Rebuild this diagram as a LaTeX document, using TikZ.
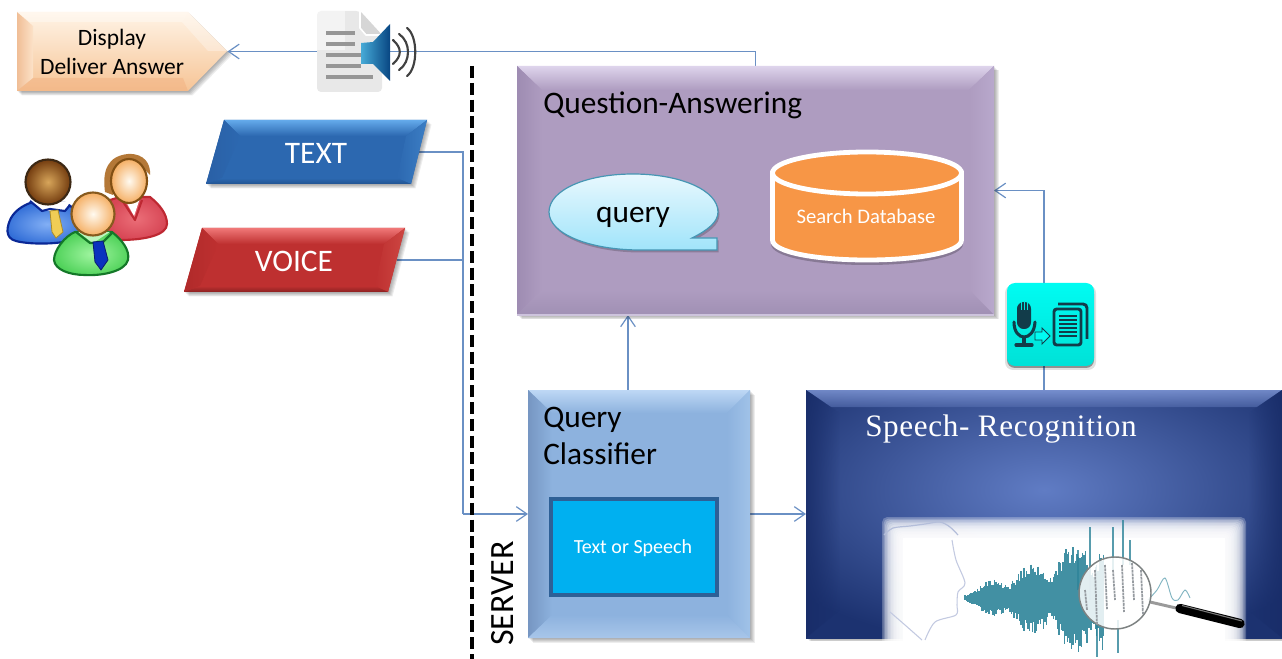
\documentclass[tikz,border=0pt]{standalone}
\usepackage{fontspec}
\setmainfont{Carlito}
\newfontfamily\serifcap[LetterSpace=2]{Liberation Serif}
\usetikzlibrary{arrows.meta,calc,shapes.geometric,fadings}
\tikzfading[name=fadeR,left color=transparent!0,right color=transparent!100]
\tikzfading[name=fadeL,left color=transparent!100,right color=transparent!0]
\definecolor{link}{HTML}{6A90C4}
\definecolor{teal1}{HTML}{2E8499}
\definecolor{icondark}{HTML}{123C4A}
\tikzset{
  link line/.style={draw=link,line width=1.1pt},
  open tip/.style={-{Straight Barb[length=8pt,width=11pt,line width=.9pt]}},
  anchorbox/.style={inner sep=0pt,outer sep=0pt},
  label black/.style={inner sep=0pt,text=black},
  label white/.style={inner sep=0pt,text=white},
  person/.style={line width=1.6pt,line join=round},
}
\newcommand\fsz[1]{\fontsize{#1}{#1}\selectfont}
\newcommand\softshadow[1]{%
  \foreach \s in {1,2,3,4,5}{%
    \fill[black,opacity=.07,shift={(\s*.9,\s*.9)}] #1;}%
}
\newcommand\qbevel[8]{%
  \fill[bC] #1--#2--#3--#4--cycle;
  \shade[top color=bT,bottom color=bC] #1--#2--#6--#5--cycle;
  \shade[left color=bL,right color=bC] #1--#5--#8--#4--cycle;
  \shade[left color=bC,right color=bR] #2--#3--#7--#6--cycle;
  \shade[top color=bC,bottom color=bB] #4--#8--#7--#3--cycle;
}
\newcommand\setbev[5]{\definecolor{bC}{HTML}{#1}\definecolor{bT}{HTML}{#2}\definecolor{bL}{HTML}{#3}\definecolor{bR}{HTML}{#4}\definecolor{bB}{HTML}{#5}}
\definecolor{dspTop}{HTML}{FFF4E6}\definecolor{dspBot}{HTML}{F6C496}
\definecolor{dspL}{HTML}{F0BE96}\definecolor{dspLr}{HTML}{FCE2C8}\definecolor{dspD}{HTML}{F0AA78}
\definecolor{docA}{HTML}{E8E8E8}\definecolor{docB}{HTML}{D6D6D6}\definecolor{docL}{HTML}{969696}
\definecolor{spkA}{HTML}{46AAD7}\definecolor{spkB}{HTML}{084682}\definecolor{arcs}{HTML}{414141}
\definecolor{wRed}{HTML}{BE2832}\definecolor{wRedA}{HTML}{EB6E78}\definecolor{wRedB}{HTML}{D74655}
\definecolor{wHair}{HTML}{B47837}\definecolor{hairD}{HTML}{825014}
\definecolor{skinA}{HTML}{FFFAF0}\definecolor{skinB}{HTML}{F5AF64}
\definecolor{bBlue}{HTML}{0A2896}\definecolor{bBlueA}{HTML}{82AFF5}\definecolor{bBlueB}{HTML}{326ED7}
\definecolor{tieY}{HTML}{F0CD55}\definecolor{tieYd}{HTML}{AA8C28}
\definecolor{brA}{HTML}{D7A55A}\definecolor{brB}{HTML}{733C0F}\definecolor{brD}{HTML}{3C2814}
\definecolor{gGr}{HTML}{147828}\definecolor{gGrA}{HTML}{A0F5A0}\definecolor{gGrB}{HTML}{50D25A}\definecolor{gColl}{HTML}{BEF5BE}
\definecolor{tieB}{HTML}{0A32BE}\definecolor{tieBd}{HTML}{0A1E6E}\definecolor{skinD}{HTML}{875A1E}
\definecolor{qaEdge}{HTML}{CDC3DC}
\definecolor{qA}{HTML}{E8F8FE}\definecolor{qB}{HTML}{A0E4FA}\definecolor{qD}{HTML}{4696B4}
\definecolor{dbO}{HTML}{F79646}
\definecolor{tosB}{HTML}{2E6096}\definecolor{tosF}{HTML}{00B0F0}
\definecolor{srI}{HTML}{607CC4}\definecolor{srO}{HTML}{1C3270}\definecolor{srT}{HTML}{92AAE8}\definecolor{srTb}{HTML}{5068AA}\definecolor{srS}{HTML}{182C68}
\definecolor{faceA}{HTML}{B4BEDA}\definecolor{faceB}{HTML}{C3CAE1}
\definecolor{silver}{HTML}{9A9A9A}\definecolor{hlt}{HTML}{787878}\definecolor{lensE}{HTML}{7D8282}\definecolor{lensT}{HTML}{969BA0}
\definecolor{cyA}{HTML}{00FCF2}\definecolor{cyB}{HTML}{00E1D7}\definecolor{cyL}{HTML}{00EBE1}
\begin{document}
\begin{tikzpicture}[x=.75pt,y=-.75pt]
\useasboundingbox (0,0) rectangle (1282,659);
\fill[white] (0,0) rectangle (1282,659);

\node[anchorbox,minimum width=477*.75pt,minimum height=249*.75pt] (qa) at (755.5,190.5) {};
\node[anchorbox,minimum width=222*.75pt,minimum height=248*.75pt] (cls) at (639,514) {};
\node[anchorbox,minimum width=476*.75pt,minimum height=248*.75pt] (rec) at (1044,514) {};
\node[anchorbox,minimum width=204*.75pt,minimum height=64*.75pt] (txt) at (317,152) {};
\node[anchorbox,minimum width=204*.75pt,minimum height=64*.75pt] (voi) at (295,260) {};
\node[anchorbox,minimum width=210*.75pt,minimum height=79*.75pt] (dsp) at (122.5,51.5) {};
\coordinate (bus) at (463,514);
\coordinate (clsup) at (628,390);
\coordinate (qadown) at (628,315);

\draw[link line,open tip] (qa.north) |- (dsp.east);
\draw[link line] (txt.east) -| (bus);
\draw[link line] (voi.east) -- (voi.east -| bus);
\draw[link line,open tip] (bus) -- (cls.west);
\draw[link line,open tip] (cls.east) -- (rec.west);
\draw[link line,open tip] (clsup) -- (qadown);
\draw[link line,open tip] (rec.north) |- (qa.east);

\coordinate (srvtop) at (472,66);
\coordinate (srvbot) at (472,659);
\draw[black,line width=3pt,dash pattern=on 9pt off 3.6pt] (srvtop) -- (srvbot);
\node[label black,rotate=90] (server) at (503,593.5) {\fsz{25.5}SERVER};

% display pentagon
\softshadow{(17,12)--(188,12)--(227,51)--(188,91)--(17,91)--cycle}
\shade[top color=dspTop,bottom color=dspBot] (17,12)--(188,12)--(227,51)--(188,91)--(17,91)--cycle;
\shade[left color=dspL,right color=dspLr] (17,12)--(33,26)--(33,78)--(17,91)--cycle;
\fill[white,opacity=.35] (17,12)--(188,12)--(182,22)--(30,22)--cycle;
\fill[white,opacity=.3] (188,12)--(227,51)--(208,51)--(182,22)--cycle;
\fill[dspD,opacity=.4] (17,91)--(33,78)--(183,78)--(188,91)--cycle;
\node[label black] (dsp1) at (112,39.5) {\fsz{17.6}Display};
\node[label black] (dsp2) at (112,66) {\fsz{17.6}Deliver Answer};

% speaker / document icon
\fill[docA,rounded corners=3pt] (317,11)--(360,11)--(382,35)--(382,92)--(317,92)--cycle;
\fill[white,opacity=.5] (317,11) rectangle (345,50);
\fill[docB] (360,11)--(382,35)--(366,35)--(360,28)--cycle;
\draw[white,line width=1.2pt] (360,11)--(360,28)--(366,35)--(382,35);
\foreach \yy/\xe in {33/355,44/355,55/361,66/361,77/373}{
  \draw[docL,line width=3pt] (326,\yy)--(\xe,\yy);}
\shade[left color=spkA,right color=spkB] (361,43)--(373,42)--(390,24)--(390,81)--(373,64)--(361,64)--cycle;
\foreach \pa/\pb/\pc in {393/402/40,399/411/34,407/418/28}{
  \draw[arcs,line width=1.6pt,line cap=round] (\pa,\pc) .. controls (\pb,\pc+8) and (\pb,104-\pc-8) .. (\pa,104-\pc);}

% TEXT
\softshadow{(224,120)--(427,120)--(411,184)--(206,184)--cycle}
\setbev{2C68B0}{64AAEB}{2A60A6}{3C7EC4}{225492}
\qbevel{(224,120)}{(427,120)}{(411,184)}{(206,184)}{(240,136)}{(406,136)}{(397,178)}{(222,178)}
\node[label white] (txtl) at (316,153.5) {\fsz{23.5}TEXT};

% VOICE
\softshadow{(202,228)--(405,228)--(388,292)--(184,292)--cycle}
\setbev{BE3030}{F07878}{B02A2A}{CD4642}{8C2222}
\qbevel{(202,228)}{(405,228)}{(388,292)}{(184,292)}{(218,244)}{(384,244)}{(375,286)}{(200,286)}
\node[label white] (voil) at (294,261.5) {\fsz{23.5}VOICE};

% people: woman
\shade[person,draw=wRed,inner color=wRedA,outer color=wRedB]
  (110,200)--(120,197)--(150,197) .. controls (160,205) and (167,214) .. (167,224) .. controls (167,235) and (145,240) .. (120,240)--(105,238)--cycle;
\fill[white] (124,198)--(134,216)--(140,198)--cycle;
\draw[person,draw=wRed] (122,200)--(135,220)--(142,200);
\fill[wHair] (105,192) .. controls (102,170) and (108,156) .. (128,154) .. controls (145,153) and (151,165) .. (150,175) -- (140,165) -- (115,170) -- (113,195) --cycle;
\shade[person,draw=hairD,inner color=skinA,outer color=skinB] (129,181) ellipse (18 and 22);
% blue man
\shade[person,draw=bBlue,inner color=bBlueA,outer color=bBlueB]
  (30,203)--(65,203) .. controls (72,205) and (90,222) .. (80,236) .. controls (70,245) and (30,245) .. (16,241) .. controls (4,238) and (7,226) .. (11,218) .. controls (15,211) and (22,206) .. (30,203) --cycle;
\fill[white] (30,201)--(42,211)--(65,211)--(70,202)--cycle;
\draw[person,draw=bBlue] (30,201)--(42,211)--(50,209)--(65,211)--(70,205);
\fill[tieY] (50,211)--(58,210)--(63,232)--(56,238)--(52,232)--cycle;
\draw[tieYd,line width=.6pt] (50,211)--(58,210)--(63,232)--(56,238)--(52,232)--cycle;
\shade[person,draw=brD,inner color=brA,outer color=brB] (48,182) circle (22.5);
% green man
\shade[person,draw=gGr,inner color=gGrA,outer color=gGrB]
  (75,232)--(112,232) .. controls (122,240) and (130,250) .. (128,260) .. controls (125,272) and (100,276) .. (85,275) .. controls (70,275) and (55,270) .. (54,260) .. controls (54,250) and (65,236) .. (75,232)--cycle;
\fill[gColl] (78,232)--(93,243)--(110,232)--cycle;
\draw[person,draw=gGr] (76,232)--(90,243)--(102,243)--(112,233);
\fill[tieB] (93,242)--(103,241)--(108,260)--(101,270)--(95,262)--cycle;
\draw[tieBd,line width=.6pt] (93,242)--(103,241)--(108,260)--(101,270)--(95,262)--cycle;
\shade[person,draw=skinD,inner color=skinA,outer color=skinB] (93,214) circle (21.5);

% Question-Answering
\softshadow{(517,66) rectangle (994,315)}
\setbev{AE9CC0}{DED4EC}{9E8CB2}{B8A8CC}{A090B4}
\qbevel{(517,66)}{(994,66)}{(994,315)}{(517,315)}{(542,90)}{(969,90)}{(969,290)}{(542,290)}
\draw[qaEdge,line width=.8pt] (517,315)--(994,315);
\node[label black,anchor=base west] (qal) at (543,114) {\fsz{23.5}Question-Answering};

% query callout
\path[fill=black,opacity=.2,shift={(1.5,2.5)}] (717,238)--(692,238) .. controls (708,230) and (718,222) .. (718,212) .. controls (718,190) and (680,174) .. (633,174) .. controls (586,174) and (549,190) .. (549,212) .. controls (549,234) and (590,250) .. (640,250)--(717,250)--cycle;
\shade[top color=qA,bottom color=qB,draw=qD,line width=.9pt] (717,238)--(692,238) .. controls (708,230) and (718,222) .. (718,212) .. controls (718,190) and (680,174) .. (633,174) .. controls (586,174) and (549,190) .. (549,212) .. controls (549,234) and (590,250) .. (640,250)--(717,250)--cycle;
\node[label black] (qry) at (633,217) {\fsz{23.5}query};

% database cylinder
\path[fill=black,opacity=.22,shift={(0,3)}] (771,172) -- (771,241) .. controls (771,254) and (815,262) .. (867,262) .. controls (919,262) and (963,254) .. (963,241) -- (963,172) -- cycle;
\draw[white,line width=3.6pt,fill=dbO] (772.5,173) -- (772.5,240) .. controls (772.5,252) and (815,260) .. (867,260) .. controls (919,260) and (961.5,252) .. (961.5,240) -- (961.5,173) -- cycle;
\draw[white,line width=3.6pt,fill=dbO] (867,173) ellipse (94.5 and 21);
\node[label white] (dbl) at (866,216) {\fsz{15.5}Search Database};

% Query classifier
\softshadow{(528,390) rectangle (750,638)}
\setbev{8DB2DE}{BED8F5}{7696C2}{A0C2E8}{A8C6EA}
\qbevel{(528,390)}{(750,390)}{(750,638)}{(528,638)}{(552,413)}{(727,413)}{(727,615)}{(552,615)}
\node[label black,anchor=base west] (cls1) at (543,427) {\fsz{23.5}Query};
\node[label black,anchor=base west] (cls2) at (543,464) {\fsz{23.5}Classifier};
\node[anchorbox,draw=tosB,line width=3pt,fill=tosF,minimum width=166*.75pt,minimum height=96*.75pt] (tos) at (633.5,546.5) {};
\node[label white] (tosl) at (633,548) {\fsz{15}Text or Speech};

% Speech recognition
\softshadow{(806,390) rectangle (1282,638)}
\begin{scope}
\clip (806,390) rectangle (1282,638);
\shade[inner color=srI,outer color=srO] (720,330) rectangle (1368,650);
\end{scope}
\shade[top color=srT,bottom color=srTb,opacity=.7] (806,390)--(1282,390)--(1257,407)--(831,407)--cycle;
\fill[srS,opacity=.8,path fading=fadeR] (806,390)--(840,413)--(840,610)--(806,638)--cycle;
\fill[srS,opacity=.8,path fading=fadeL] (1282,390)--(1248,413)--(1248,610)--(1282,638)--cycle;
\node[label white,anchor=base west] (recl) at (865,436) {\serifcap\fsz{23.4}Speech- Recognition};

% soft white picture
\foreach \i in {0,1,...,13}{
  \fill[white,opacity=.25,rounded corners=4pt] (882+\i*1.5,517+\i*1.5) rectangle (1246-\i*1.5,659);}
\fill[white] (903,538) rectangle (1225,659);
\fill[white] (1225,641) rectangle (1282,659);
\fill[white] (806,641) rectangle (903,659);
\draw[faceA,line width=.9pt,line join=round] plot[smooth] coordinates {(884,535) (893,528) (910,526) (925,524) (940,522) (950,527) (958,535)};
\draw[faceB,line width=.8pt] plot[smooth] coordinates {(952,540) (956,560) (965,583) (958,592) (957,605) (956,615) (935,622) (925,640)};
\draw[faceB,line width=.8pt] plot[smooth] coordinates {(890,612) (905,625) (922,640)};
% waveform
\pgfmathsetseed{7}
\foreach \xx in {965,966.4,...,1104}{
  \pgfmathsetmacro\env{(5+(\xx-965)*.38)*(.55+.7*abs(sin((\xx-965)*4.2)))}
  \pgfmathsetmacro\ytop{598-\env*(.6+.4*rnd)}
  \pgfmathsetmacro\ybot{598+\env*(.6+.4*rnd)}
  \draw[teal1,line width=1.05pt,opacity=.9] (\xx,\ytop)--(\xx,\ybot);}
\foreach \xx/\ya/\yb in {1090/527/600,1113/527/570,1123/520/565,1097/610/657,1118/620/653,1130/540/565,1078/550/590}{
  \draw[teal1,line width=1.5pt,opacity=.8] (\xx,\ya)--(\xx,\yb);}
\draw[silver,line width=2.2pt,line cap=round] (1150,602)--(1176,608);
\draw[black,line width=7pt,line cap=round] (1180,608.5)--(1240,623.5);
\draw[hlt,line width=.8pt] (1182,605.5)--(1242,621);
\draw[teal1,opacity=.6,line width=.7pt] plot[smooth] coordinates {(1148,600) (1157,590) (1165,578) (1172,598) (1178,600) (1185,590) (1190,598)};
\fill[white,opacity=.85] (1115,593) circle (36);
\draw[lensE,line width=1.1pt] (1115,593) circle (36);
\foreach \xx/\ya/\yb in {1085/590/610,1095/570/625,1105/565/610,1113/570/600,1122/565/612,1132/563/600,1141/570/615}{
  \draw[lensT,line width=1.3pt,dash pattern=on 2pt off .6pt] (\xx,\ya)--(\xx+2,\yb);}

% cyan icon
\fill[black,opacity=.12,rounded corners=6pt] (1005,285) rectangle (1096,370);
\fill[black,opacity=.35,rounded corners=6pt] (1007,286) rectangle (1094,368);
\shade[top color=cyA,bottom color=cyB,rounded corners=6pt] (1007,283) rectangle (1094,366);
\fill[icondark,rounded corners=5pt] (1017,302) rectangle (1031,329);
\foreach \xx in {1021,1024,1027}{\draw[cyL,line width=.5pt] (\xx,302)--(\xx,310);}
\draw[icondark,line width=2.3pt,line cap=round] (1014,322) .. controls (1014,342) and (1034,342) .. (1035,322);
\draw[icondark,line width=2.4pt] (1024,337)--(1024,345);
\draw[icondark,line width=2.4pt,line cap=round] (1016,345)--(1032,345);
\draw[icondark,line width=.7pt,fill=cyA] (1035,332)--(1042,332)--(1042,328)--(1050,336)--(1042,344)--(1042,340)--(1035,340)--cycle;
\draw[icondark,line width=2.2pt,rounded corners=2pt] (1054,309) rectangle (1081,345);
\draw[icondark,line width=2.2pt,rounded corners=3pt] (1058,304)--(1087,304)--(1087,339);
\foreach \yy in {316,320,324,328,332,336}{\draw[icondark,line width=1.5pt] (1059,\yy)--(1077,\yy);}
\end{tikzpicture}
\end{document}
